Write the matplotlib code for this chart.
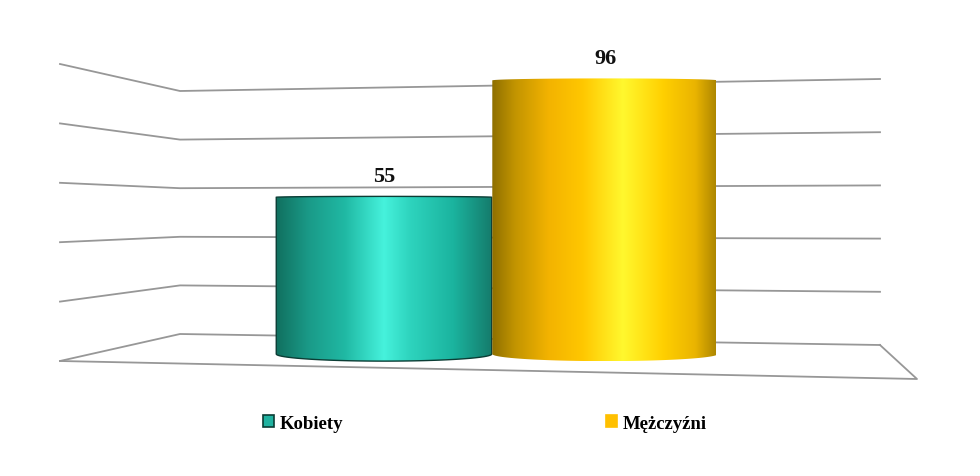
import numpy as np
import matplotlib
matplotlib.use("Agg")
import matplotlib.pyplot as plt
from matplotlib.colors import LinearSegmentedColormap
from matplotlib.patches import Polygon, Patch

# data
categories = ["Kobiety", "Mężczyźni"]
values = [55, 96]
grid_values = [0, 20, 40, 60, 80, 100]

teal_stops = [(0.0, "#11705f"), (0.15, "#1a9a88"), (0.32, "#20b9a4"), (0.5, "#46f2dc"),
              (0.62, "#2ed4be"), (0.82, "#1bb49f"), (1.0, "#157c6c")]
gold_stops = [(0.0, "#8f7000"), (0.1, "#c29400"), (0.25, "#f3b300"), (0.4, "#ffc700"),
              (0.58, "#fff82e"), (0.76, "#ffcf00"), (0.9, "#eab400"), (1.0, "#a88300")]
cmaps = [LinearSegmentedColormap.from_list("teal", teal_stops),
         LinearSegmentedColormap.from_list("gold", gold_stops)]
legend_colors = ["#20b2a0", "#ffc000"]
edge_colors = ["#0b3d35", "none"]

W, H = 980, 477
fig = plt.figure(figsize=(W / 100, H / 100), dpi=100)

# background scene (walls + floor), laid out in pixel units
bg = fig.add_axes([0, 0, 1, 1])
bg.set_xlim(0, W)
bg.set_ylim(H, 0)
bg.axis("off")

x_left, x_corner, x_right, x_front = 60, 180, 880, 917


def wall_y(v, where):
    # perspective of the Excel 3D wall: base pixel and pixels per unit
    base = {"left": (362, 2.97), "corner": (335, 2.43), "right": (346, 2.66)}[where]
    return base[0] - base[1] * v


grid_col = "#979797"
for v in grid_values:
    bg.plot([x_left, x_corner, x_right],
            [wall_y(v, "left"), wall_y(v, "corner"), wall_y(v, "right")],
            color=grid_col, lw=1.3, solid_joinstyle="miter")
# floor edges
front_y = 380
bg.plot([x_left, x_front, x_right], [wall_y(0, "left"), front_y, wall_y(0, "right")],
        color=grid_col, lw=1.3)

# cylinders, in value units
px_per_unit = 2.85
base_px = 355
y_lo, y_hi = -5, 105
ax = fig.add_axes([273.5 / W, (H - (base_px - y_lo * px_per_unit)) / H,
                   442 / W, (y_hi - y_lo) * px_per_unit / H])
ax.set_xlim(-0.5, 1.5)
ax.set_ylim(y_lo, y_hi)
ax.axis("off")
ax.patch.set_alpha(0)

bar_widths = [0.975, 1.02]
tops = [0.3, 0.7]
e_bot = 2.5
grad = np.linspace(0, 1, 256).reshape(1, -1)
t = np.linspace(0, np.pi, 80)
for i, (v, cm) in enumerate(zip(values, cmaps)):
    bw, e_top = bar_widths[i], tops[i]
    x0, x1 = i - bw / 2, i + bw / 2
    top = np.column_stack([i - bw / 2 * np.cos(t), v + e_top * np.sin(t)])
    bot = np.column_stack([i + bw / 2 * np.cos(t), -e_bot * np.sin(t)])
    pts = np.vstack([[[x0, 0]], top, [[x1, 0]], bot])
    poly = Polygon(pts, closed=True, facecolor="none", edgecolor=edge_colors[i], lw=1.0, zorder=3 + i * 2)
    ax.add_patch(poly)
    im = ax.imshow(grad, cmap=cm, extent=(x0, x1, -e_bot, v + e_top), aspect="auto",
                   zorder=2 + i * 2, interpolation="bicubic")
    im.set_clip_path(poly)
    ax.annotate(str(v), (i, v + e_top), xytext=(0, 11), textcoords="offset points",
                ha="center", va="baseline", fontsize=16, fontweight="bold",
                family="Liberation Serif", color="#111111")

handles = [Patch(facecolor=c, edgecolor=e if e != "none" else c, lw=1.2)
           for c, e in zip(legend_colors, ["#0b3d35", "none"])]
fig.legend(handles, categories, loc="center", bbox_to_anchor=(0.495, 0.111), ncol=2,
           frameon=False, handlelength=0.6, handleheight=0.6, handletextpad=0.3,
           columnspacing=14.0, prop={"family": "Liberation Serif", "weight": "bold", "size": 13.5})

fig.savefig("out.png", dpi=100)
